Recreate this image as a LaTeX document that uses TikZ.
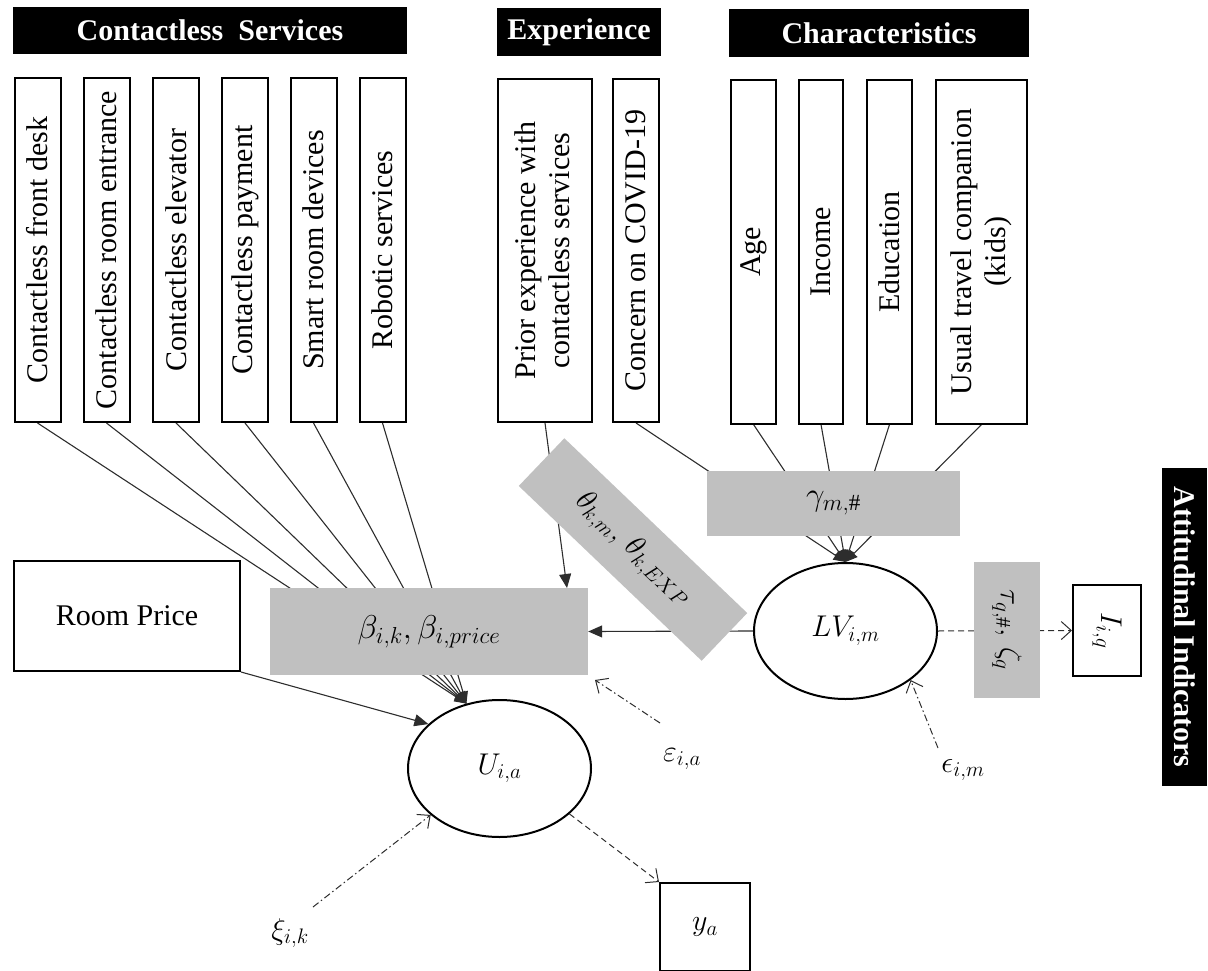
\documentclass[tikz,border=0pt]{standalone}
\usepackage{fix-cm}
\usepackage{fontspec}
\setmainfont{Liberation Serif}
\usetikzlibrary{shapes.geometric,arrows.meta,backgrounds,calc}
\definecolor{boxgray}{RGB}{192,192,192}
\definecolor{lineclr}{RGB}{45,45,45}
\newcommand{\bigtxt}{\fontsize{30}{36}\selectfont}
\newcommand{\biggertxt}{\fontsize{33}{40}\selectfont}
\tikzset{
  hdr/.style={fill=black, text=white, font=\bigtxt\bfseries, inner sep=0pt},
  vbox/.style={draw, line width=2pt, fill=white, inner sep=0pt, font=\bigtxt},
  gbox/.style={fill=boxgray, inner sep=0pt, font=\bigtxt},
  ell/.style={ellipse, draw, line width=2pt, fill=white, inner sep=0pt, font=\bigtxt},
  lbl/.style={inner sep=0pt, font=\bigtxt},
  conn/.style={draw=lineclr, line width=1.1pt, -{Triangle[length=12pt,width=10pt]}},
  connB/.style={draw=lineclr, line width=1.1pt, -{Triangle[length=14pt,width=12pt]}},
  dashedarr/.style={draw=lineclr, line width=1pt, dash pattern=on 6pt off 4pt, -{Straight Barb[length=10pt,width=18pt]}},
  dasharr/.style={draw=lineclr, line width=1pt, dash pattern=on 7pt off 3pt on 1.5pt off 3pt, -{Straight Barb[length=10pt,width=18pt]}}
}
\begin{document}
\begin{tikzpicture}[x=1pt,y=-1pt]
\useasboundingbox (0,0) rectangle (1208,971);
% headers
\node[hdr, minimum width=394pt, minimum height=47pt] (hcs) at (210,30.5) {Contactless\ \ Services};
\node[hdr, minimum width=164pt, minimum height=48pt] (hex) at (579,32) {Experience};
\node[hdr, minimum width=300pt, minimum height=48pt] (hch) at (879,33) {Characteristics};
% service boxes
\node[vbox, minimum width=46pt, minimum height=344pt] (s1) at (37.5,250) {\rotatebox{90}{Contactless front desk}};
\node[vbox, minimum width=46pt, minimum height=344pt] (s2) at (106.5,250) {\rotatebox{90}{Contactless room entrance}};
\node[vbox, minimum width=46pt, minimum height=344pt] (s3) at (176,250) {\rotatebox{90}{Contactless elevator}};
\node[vbox, minimum width=46pt, minimum height=344pt] (s4) at (245,250) {\rotatebox{90}{Contactless payment}};
\node[vbox, minimum width=46pt, minimum height=344pt] (s5) at (313.5,250) {\rotatebox{90}{Smart room devices}};
\node[vbox, minimum width=46pt, minimum height=344pt] (s6) at (382.5,250) {\rotatebox{90}{Robotic services}};
% experience boxes
\node[vbox, minimum width=94pt, minimum height=343pt] (prior) at (545,250.5) {\rotatebox{90}{\begin{tabular}{@{}c@{}}Prior experience with\\[-2pt] contactless services\end{tabular}}};
\node[vbox, minimum width=46pt, minimum height=343pt] (concern) at (636,250.5) {\rotatebox{90}{Concern on COVID-19}};
% characteristics boxes
\node[vbox, minimum width=45pt, minimum height=343pt] (age) at (753.5,252) {\rotatebox{90}{Age}};
\node[vbox, minimum width=44pt, minimum height=343pt] (income) at (821,252) {\rotatebox{90}{Income}};
\node[vbox, minimum width=45pt, minimum height=343pt] (edu) at (889.5,252) {\rotatebox{90}{Education}};
\node[vbox, minimum width=91pt, minimum height=343pt] (usual) at (981.5,252) {\rotatebox{90}{\begin{tabular}{@{}c@{}}Usual travel companion\\[-2pt] (kids)\end{tabular}}};
% middle
\node[vbox, minimum width=226pt, minimum height=110pt] (rp) at (127,616) {Room Price};
\node[gbox, minimum width=318pt, minimum height=87pt, font=\biggertxt] (beta) at (429,631.5) {$\beta_{i,k}, \beta_{i,price}$};
\node[gbox, minimum width=253pt, minimum height=65pt, font=\biggertxt] (gamma) at (833.5,503.5) {$\gamma_{m,\#}$};
\node[gbox, rotate=-43.7, minimum width=253pt, minimum height=66pt] (theta) at (633,549.5) {$\theta_{k,m},\, \theta_{k,EXP}$};
\node[ell, minimum width=183pt, minimum height=136pt] (LV) at (845.5,631) {$LV_{i,m}$};
\node[ell, minimum width=183pt, minimum height=137pt] (U) at (499.5,768.5) {$U_{i,a}$};
\node[gbox, minimum width=66pt, minimum height=136pt] (tau) at (1007,630) {\rotatebox{-90}{$\tau_{q,\#},\, \zeta_q$}};
\node[vbox, minimum width=68pt, minimum height=91pt] (I) at (1107,630.5) {\rotatebox{-90}{$I_{i,q}$}};
\node[hdr, minimum width=45pt, minimum height=318pt] (att) at (1184.5,627) {\rotatebox{-90}{Attitudinal Indicators}};
\node[vbox, minimum width=90pt, minimum height=88pt] (ya) at (705,927) {$y_a$};
% error labels
\node[lbl] (xi) at (290,933) {$\xi_{i,k}$};
\node[lbl] (epsA) at (682,759) {$\varepsilon_{i,a}$};
\node[lbl] (epsM) at (963,770) {$\epsilon_{i,m}$};
\coordinate (betaP) at (567,588);
\coordinate (eAs) at (660,723);
\coordinate (eAt) at (595,680);
\coordinate (eMs) at (938,748);
\coordinate (xs) at (313,907);
\begin{pgfonlayer}{background}
\foreach \s in {s1,s2,s3,s4,s5,s6} \draw[conn] (\s.south) -- (U.117);
\draw[connB] (rp.south east) -- (U.148);
\draw[connB] (prior.south) -- (betaP);
\foreach \s in {concern,age,income,edu,usual} \draw[conn] (\s.south) -- (LV.north);
\draw[connB] (LV.west) -- (beta.east);
\draw[dashedarr] (LV.east) -- (I.west);
\draw[dasharr] (eAs) -- (eAt);
\draw[dasharr] (eMs) -- (LV.-37);
\draw[dasharr] (xs) -- (U.-146);
\draw[dashedarr] (U.-33) -- (ya.north west);
\end{pgfonlayer}
\end{tikzpicture}
\end{document}
